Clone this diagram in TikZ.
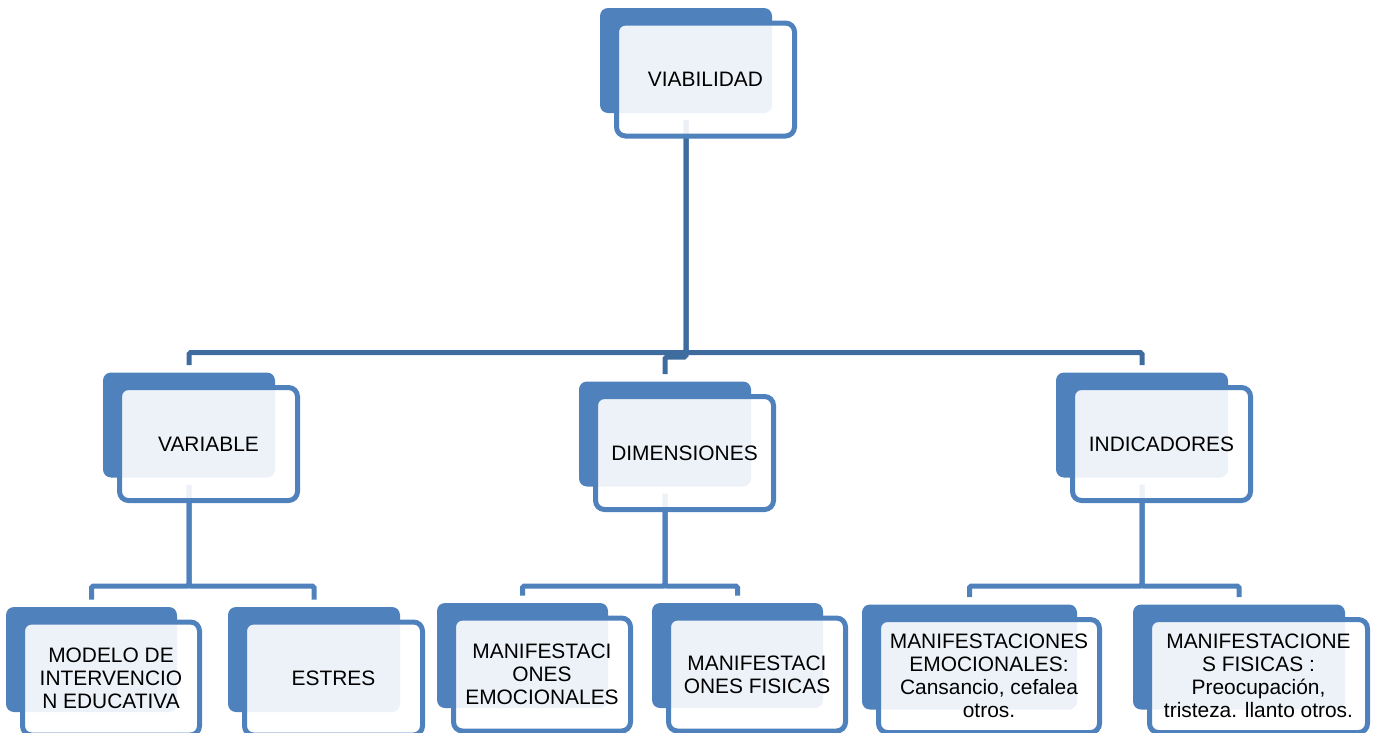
\documentclass[tikz,border=0pt]{standalone}
\usepackage{fontspec}
\setmainfont{Liberation Sans}
\usetikzlibrary{calc,backgrounds}

\definecolor{boxblue}{HTML}{4F81BD}
\definecolor{linkblue}{HTML}{3F6C9E}

\tikzset{
  backbox/.style={fill=boxblue, rounded corners=0.16cm, minimum height=2.1cm, inner sep=0pt},
  frontbox/.style={draw=boxblue, line width=0.1cm, fill=white, fill opacity=0.9, text opacity=1,
    rounded corners=0.18cm, minimum height=2.26cm, inner sep=0pt, align=center,
    font=\fontsize{11.9}{13}\selectfont},
  toplink/.style={draw=linkblue, line width=0.1cm, rounded corners=1pt},
  sublink/.style={draw=boxblue, line width=0.1cm, rounded corners=1pt}
}

% name, back centre, back width, text
\newcommand{\tierbox}[4]{%
  \node[backbox, minimum width=#3] (#1) at #2 {};
  \node[frontbox, minimum width=#3+0.12cm] (#1-f) at ($(#1)+(0.39,-0.38)$) {#4};
  \coordinate (#1-in) at ($(#1.north)+(0,0.14)$);
  \coordinate (#1-out) at ($(#1.south)+(0,-0.14)$);
}

\begin{document}
\begin{tikzpicture}
 \clip (0,0) rectangle (27.64,-14.66);

 \tierbox{viab}{(13.72,-1.21)}{3.44cm}{VIABILIDAD}
 \tierbox{var}{(3.78,-8.5)}{3.44cm}{VARIABLE}
 \tierbox{dim}{(13.3,-8.68)}{3.44cm}{DIMENSIONES}
 \tierbox{ind}{(22.84,-8.5)}{3.44cm}{INDICADORES}

 \tierbox{modelo}{(1.83,-13.19)}{3.42cm}{MODELO DE\\INTERVENCIO\\N EDUCATIVA}
 \tierbox{estres}{(6.28,-13.19)}{3.44cm}{ESTRES}
 \tierbox{dimemo}{(10.45,-13.11)}{3.42cm}{MANIFESTACI\\ONES\\EMOCIONALES}
 \tierbox{dimfis}{(14.75,-13.11)}{3.42cm}{MANIFESTACI\\ONES FISICAS}
 \tierbox{indemo}{(19.39,-13.14)}{4.3cm}{MANIFESTACIONES\\EMOCIONALES:\\Cansancio, cefalea\\otros.}
 \tierbox{indfis}{(24.78,-13.14)}{4.24cm}{MANIFESTACIONE\\S FISICAS :\\Preocupación,\\tristeza. llanto otros.}

 \coordinate (busA) at (0,-7.05);
 \coordinate (busD) at (0,-7.14);
 \coordinate (busL) at (0,-11.72);

 \begin{pgfonlayer}{background}
  \draw[toplink] (viab-out) -- (viab-out |- busA) -| (var-in);
  \draw[toplink] (viab-out |- busA) -| (ind-in);
  \draw[toplink] (viab-out) -- (viab-out |- busD) -| (dim-in);
  \foreach \p/\c in {var/modelo, var/estres, dim/dimemo, dim/dimfis, ind/indemo, ind/indfis}
  {
   \draw[sublink] (\p-out) -- (\p-out |- busL) -| (\c-in);
  }
 \end{pgfonlayer}

\end{tikzpicture}
\end{document}
